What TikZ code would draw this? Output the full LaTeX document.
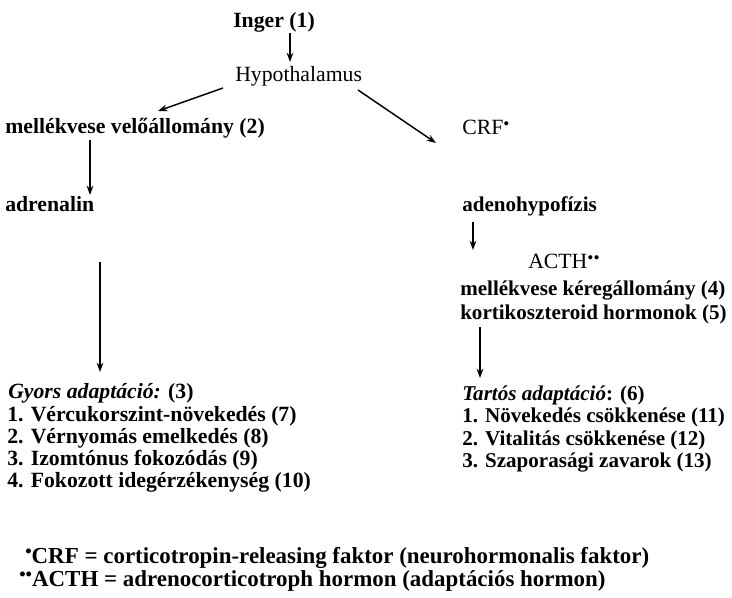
\documentclass[tikz,border=0pt]{standalone}
\usepackage{fontspec}
\setmainfont{Liberation Serif}
\usetikzlibrary{arrows.meta}
\newcommand{\supdot}{\raisebox{0.5ex}{\scalebox{0.8}{\textbullet}}}
\begin{document}
\begin{tikzpicture}[x=0.75pt,y=-0.75pt,
  txt/.style={anchor=base west,inner sep=0pt,font=\fontsize{16.3}{20}\selectfont\bfseries},
  rcol/.style={anchor=base west,inner sep=0pt,font=\fontsize{15.8}{20}\selectfont\bfseries},
  rtxt/.style={anchor=base west,inner sep=0pt,font=\fontsize{16.3}{20}\selectfont},
  ftxt/.style={anchor=base west,inner sep=0pt,font=\fontsize{17.2}{20}\selectfont\bfseries},
  arr/.style={line width=1.1pt,-{Stealth[length=7pt,width=5pt]}}]
\useasboundingbox (0,0) rectangle (732,597);
\node[txt] (inger) at (233,27) {Inger (1)};
\node[rtxt] (hyp) at (235,81) {Hypothalamus};
\node[txt] (mvv) at (5,133) {mellékvese velőállomány (2)};
\node[rtxt] (crf) at (462,134) {CRF\supdot};
\node[txt] (adr) at (5,211) {adrenalin};
\node[rcol] (adh) at (462,211) {adenohypofízis};
\node[rtxt] (acth) at (528,268) {ACTH\supdot\supdot};
\node[rcol] (mvk) at (460,295) {mellékvese kéregállomány (4)};
\node[rcol] (kort) at (460,319) {kortikoszteroid hormonok (5)};
\node[txt] (gy) at (8,398) {\textit{Gyors adaptáció:} (3)};
\node[txt] (g1) at (7,421) {1. Vércukorszint-növekedés (7)};
\node[txt] (g2) at (7,443) {2. Vérnyomás emelkedés (8)};
\node[txt] (g3) at (7,465) {3. Izomtónus fokozódás (9)};
\node[txt] (g4) at (7,487) {4. Fokozott idegérzékenység (10)};
\node[rcol] (ta) at (462,400) {\textit{Tartós adaptáció}: (6)};
\node[rcol] (t1) at (462,422) {1. Növekedés csökkenése (11)};
\node[rcol] (t2) at (462,445) {2. Vitalitás csökkenése (12)};
\node[rcol] (t3) at (462,467) {3. Szaporasági zavarok (13)};
\node[ftxt] (fn1) at (25,563) {\supdot CRF = corticotropin-releasing faktor (neurohormonalis faktor)};
\node[ftxt] (fn2) at (19,586) {\supdot\supdot ACTH = adrenocorticotroph hormon (adaptációs hormon)};
\coordinate (a1s) at (290,33); \coordinate (a1e) at (290,62);
\coordinate (a2s) at (223,88); \coordinate (a2e) at (158,111);
\coordinate (a3s) at (358,90); \coordinate (a3e) at (436,143);
\coordinate (a4s) at (90,140); \coordinate (a4e) at (90,195);
\coordinate (a5s) at (473,222); \coordinate (a5e) at (473,250);
\coordinate (a6s) at (100,262); \coordinate (a6e) at (100,372);
\coordinate (a7s) at (480,327); \coordinate (a7e) at (480,378);
\draw[arr] (a1s) -- (a1e);
\draw[arr] (a2s) -- (a2e);
\draw[arr] (a3s) -- (a3e);
\draw[arr] (a4s) -- (a4e);
\draw[arr] (a5s) -- (a5e);
\draw[arr] (a6s) -- (a6e);
\draw[arr] (a7s) -- (a7e);
\end{tikzpicture}
\end{document}
